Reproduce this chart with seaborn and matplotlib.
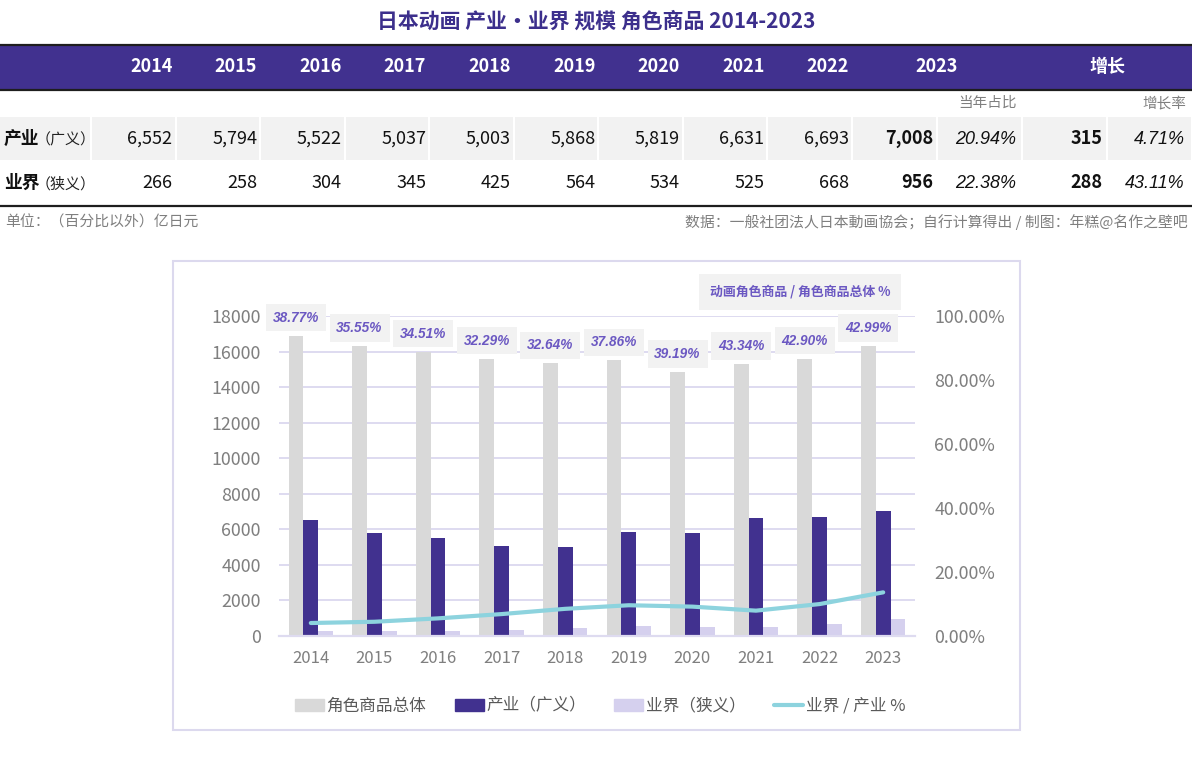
import seaborn as sns
import matplotlib.pyplot as plt
import pandas as pd
from matplotlib.patches import Rectangle, Patch
from matplotlib.lines import Line2D
from matplotlib.ticker import FuncFormatter

# data
years = ["2014", "2015", "2016", "2017", "2018", "2019", "2020", "2021", "2022", "2023"]
industry = [6552, 5794, 5522, 5037, 5003, 5868, 5819, 6631, 6693, 7008]      # 产业（广义）
narrow = [266, 258, 304, 345, 425, 564, 534, 525, 668, 956]                  # 业界（狭义）
character_total = [16900, 16300, 16000, 15600, 15330, 15500, 14850, 15300, 15600, 16300]
anime_share = [38.77, 35.55, 34.51, 32.29, 32.64, 37.86, 39.19, 43.34, 42.90, 42.99]
narrow_ratio = [4.06, 4.45, 5.51, 6.85, 8.49, 9.61, 9.18, 7.92, 9.98, 13.64]
share_2023 = ["20.94%", "22.38%"]
growth = [315, 288]
growth_rate = ["4.71%", "43.11%"]

series_names = ["角色商品总体", "产业（广义）", "业界（狭义）"]
line_name = "业界 / 产业 %"

PURPLE = "#41318f"
GRAY_BAR = "#d9d9d9"
LIGHT = "#d5d0ee"
CYAN = "#8dd3de"
LABEL_PURPLE = "#6b58c2"
TICK_GRAY = "#7f7f7f"
GRID = "#dedbf0"

sns.set_style("white")
plt.rcParams["font.family"] = ["Noto Sans CJK SC", "DejaVu Sans"]

W, H = 1192, 776
fig = plt.figure(figsize=(W / 100, H / 100), dpi=100)

# background layer in pixel coordinates for the table part
bg = fig.add_axes([0, 0, 1, 1])
bg.set_xlim(0, W)
bg.set_ylim(H, 0)
bg.axis("off")

bg.text(596, 21, "日本动画 产业・业界 规模 角色商品 2014-2023", ha="center", va="center",
        fontsize=15, fontweight="bold", color="#3c2f8c")

# header band
bg.add_patch(Rectangle((0, 45), W, 45, color=PURPLE, lw=0))
bg.plot([0, W], [45, 45], color="#1e1e1e", lw=1.6)
bg.plot([0, W], [90, 90], color="#1e1e1e", lw=1.6)
bg.plot([0, W], [206, 206], color="#1e1e1e", lw=1.6)

pitch = 84.56
col_left = [92 + pitch * i for i in range(10)]
extra_left = [938, 1023, 1108]
cell_w = 82.5

# row 1 gray cells
bg.add_patch(Rectangle((0, 117), 90, 43, color="#f2f2f2", lw=0))
for x0 in col_left + extra_left:
    bg.add_patch(Rectangle((x0, 117), min(cell_w, W - x0), 43, color="#f2f2f2", lw=0))

# header labels
for i, y in enumerate(years[:-1]):
    bg.text(col_left[i] + cell_w - 2, 67, y, ha="right", va="center", color="white",
            fontsize=13, fontweight="bold")
bg.text(937, 67, years[-1], ha="center", va="center", color="white", fontsize=13, fontweight="bold")
bg.text(1107, 67, "增长", ha="center", va="center", color="white", fontsize=13, fontweight="bold")

bg.text(1017, 103, "当年占比", ha="right", va="center", color=TICK_GRAY, fontsize=10.5)
bg.text(1186, 103, "增长率", ha="right", va="center", color=TICK_GRAY, fontsize=10.5)

rows = [("产业", "（广义）", industry, 139), ("业界", "（狭义）", narrow, 183)]
for r, (name, sub, vals, yc) in enumerate(rows):
    bg.text(4, yc, name, ha="left", va="center", fontsize=12.8, fontweight="bold", color="#111")
    bg.text(36, yc + 1, sub, ha="left", va="center", fontsize=10.8, color="#222")
    for i, v in enumerate(vals):
        bold = "bold" if i == 9 else "normal"
        bg.text(col_left[i] + cell_w - 2, yc, f"{v:,}", ha="right", va="center",
                fontsize=13, fontweight=bold, color="#111")
    bg.text(1016, yc, share_2023[r], ha="right", va="center", fontsize=13,
            family="Liberation Sans", style="italic", color="#111")
    bg.text(1103, yc, f"{growth[r]:,}", ha="right", va="center", fontsize=13,
            fontweight="bold", color="#111")
    bg.text(1185, yc, growth_rate[r], ha="right", va="center", fontsize=13,
            family="Liberation Sans", style="italic", color="#111")

bg.text(5, 222, "单位：（百分比以外）亿日元", ha="left", va="center", fontsize=10.7, color=TICK_GRAY)
bg.text(1188, 222, "数据：一般社团法人日本動画協会；自行计算得出 / 制图：年糕@名作之壁吧",
        ha="right", va="center", fontsize=10.7, color=TICK_GRAY)

# chart frame and note
bg.add_patch(Rectangle((173, 261), 847, 469, fill=False, ec="#dcd9ee", lw=1.5))
bg.text(800, 292, "动画角色商品 / 角色商品总体 %", ha="center", va="center", fontsize=9.3,
        fontweight="bold", color=LABEL_PURPLE,
        bbox=dict(boxstyle="square,pad=0.85", fc="#f2f2f2", ec="none"))

# chart
ax = fig.add_axes([279 / W, 1 - 636 / H, 636 / W, 320 / H])
ax.patch.set_alpha(0)

df = pd.DataFrame({
    "year": years * 3,
    "series": [series_names[0]] * 10 + [series_names[1]] * 10 + [series_names[2]] * 10,
    "value": character_total + industry + narrow,
})
sns.barplot(data=df, x="year", y="value", hue="series", hue_order=series_names,
            palette=[GRAY_BAR, PURPLE, LIGHT], saturation=1, width=0.7, ax=ax, legend=False,
            linewidth=0, edgecolor="none")

ax.set_ylim(0, 18000)
ax.set_yticks(range(0, 18001, 2000))
ax.set_xlim(-0.5, 9.5)
ax.set_xlabel("")
ax.set_ylabel("")
ax.yaxis.grid(True, color=GRID, lw=1.4)
ax.set_axisbelow(True)
for s in ["top", "right", "left"]:
    ax.spines[s].set_visible(False)
ax.spines["bottom"].set_color(GRID)
ax.spines["bottom"].set_linewidth(1.6)
ax.tick_params(axis="y", length=0, pad=13, labelsize=12.8, labelcolor=TICK_GRAY)
ax.tick_params(axis="x", length=0, pad=10, labelsize=12, labelcolor=TICK_GRAY)

bar_off = 0.7 / 3
for i, (tot, pct) in enumerate(zip(character_total, anime_share)):
    ax.annotate(f"{pct:.2f}%", xy=(i - bar_off, tot), xytext=(0, 13), textcoords="offset points",
                ha="center", va="center", fontsize=9.8, family="Liberation Sans",
                fontweight="bold", style="italic", color=LABEL_PURPLE, annotation_clip=False,
                bbox=dict(boxstyle="square,pad=0.5", fc="#f2f2f2", ec="none"))

ax2 = ax.twinx()
ax2.patch.set_alpha(0)
sns.lineplot(x=list(range(10)), y=[v / 100 for v in narrow_ratio], ax=ax2, color=CYAN, lw=3,
             solid_capstyle="round", solid_joinstyle="round")
ax2.set_ylim(0, 1)
ax2.set_yticks([0, 0.2, 0.4, 0.6, 0.8, 1.0])
ax2.yaxis.set_major_formatter(FuncFormatter(lambda v, p: f"{v * 100:.2f}%"))
ax2.set_xlim(-0.5, 9.5)
ax2.set_ylabel("")
for s in ax2.spines.values():
    s.set_visible(False)
ax2.tick_params(axis="y", length=0, pad=14, labelsize=12.8, labelcolor=TICK_GRAY)

handles = [Patch(color=GRAY_BAR), Patch(color=PURPLE), Patch(color=LIGHT),
           Line2D([0], [0], color=CYAN, lw=3)]
fig.legend(handles, series_names + [line_name], loc="center", bbox_to_anchor=(600 / W, 1 - 706 / H),
           ncol=4, frameon=False, fontsize=12, handlelength=1.75, handletextpad=0.15,
           columnspacing=1.7, labelcolor="#595959")

fig.savefig("out.png", dpi=100)
